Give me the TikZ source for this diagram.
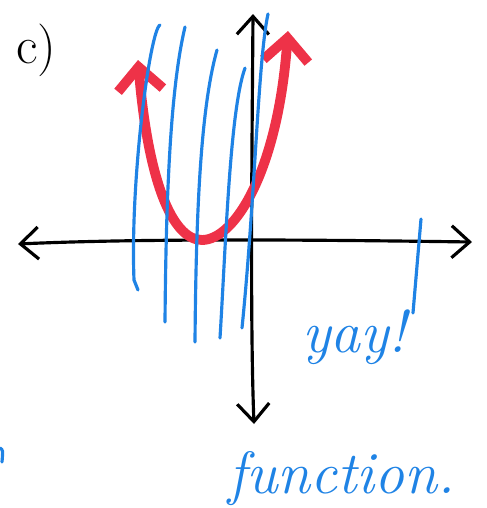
\documentclass[tikz,border=0pt]{standalone}
\usepackage{tikz}
\usetikzlibrary{arrows.meta,positioning,calc}

\definecolor{penblue}{RGB}{31,131,229}
\definecolor{penred}{RGB}{238,50,72}

\begin{document}
\begin{tikzpicture}[x=0.02cm, y=-0.02cm,
        axis/.style={black, line width=1.8pt, line cap=round, {Straight Barb[length=3.6mm, width=6.4mm]}-{Straight Barb[length=3.6mm, width=6.4mm]}},
        graph/.style={penred, line width=5.6pt, line cap=round, {Straight Barb[length=4.6mm, width=9mm]}-{Straight Barb[length=4.6mm, width=9mm]}},
        vline/.style={penblue, line width=1.8pt, line cap=round},
        note/.style={penblue, font=\fontsize{34}{38}\selectfont\itshape, inner sep=0pt}
      ]
        \useasboundingbox (0,0) rectangle (487,508);

        % Achsen
        \draw[axis] (18,244) .. controls (150,238) and (330,240) .. (472,242);
        \draw[axis] (253,14) .. controls (252,150) and (250,320) .. (254,424);

        % Parabel
        \draw[graph] (138,60) .. controls (148,180) and (172,240) .. (202,240)
                     .. controls (235,240) and (278,170) .. (288,31);

        % senkrechte Linien
        \draw[vline] (160,25) .. controls (150,30) and (130,180) .. (134,280) -- (138,290);
        \draw[vline] (185,27) .. controls (170,90) and (166,200) .. (165,322);
        \draw[vline] (217,50) .. controls (200,110) and (196,220) .. (195,342);
        \draw[vline] (245,68) .. controls (230,110) and (226,240) .. (220,338);
        \draw[vline] (268,14) .. controls (258,60) and (255,200) .. (242,328);
        \draw[vline] (421,219) -- (413,313);
        \draw[vline] (0,448) .. controls (3,450) .. (2,462);

        % Beschriftung
        \node[anchor=base west, font=\fontsize{30}{34}\selectfont, inner sep=0pt] (part) at (16,63) {c)};
        \node[note, anchor=base west] (yay) at (302,352) {yay!};
        \node[note, anchor=base west] (func) at (228,493) {function.};
      \end{tikzpicture}
\end{document}
